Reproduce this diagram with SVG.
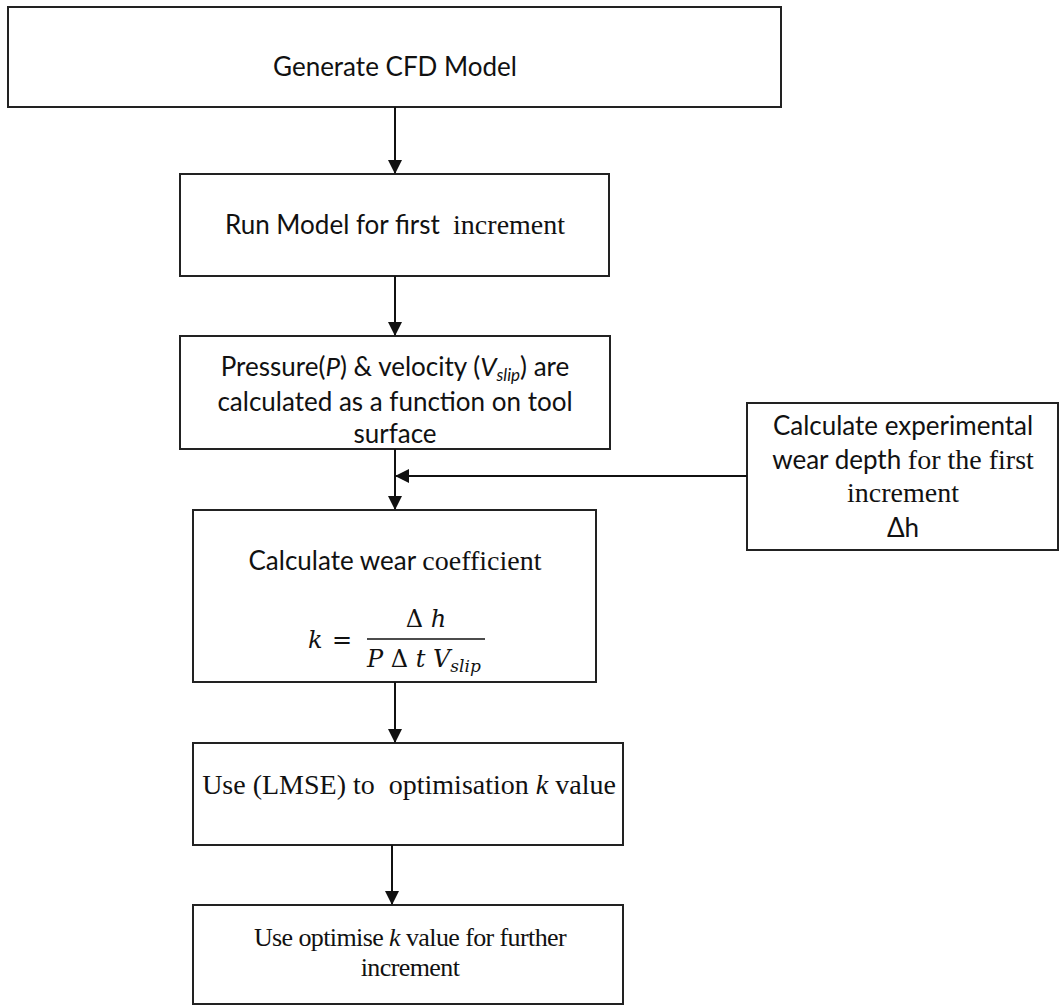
<svg xmlns="http://www.w3.org/2000/svg" width="1060" height="1005" viewBox="0 0 1060 1005">
<style>
.box{fill:#fff;stroke:#222;stroke-width:2}
.sans{font-family:Lato,"Liberation Sans",sans-serif;font-size:26px;fill:#111}
.serif{font-family:"Liberation Serif","Times New Roman",serif;font-size:28px;fill:#111}
.serif2{font-family:"Liberation Serif","Times New Roman",serif;font-size:26px;letter-spacing:-0.6px;fill:#111}
.math{font-family:"DejaVu Serif","Liberation Serif",serif;font-size:24px;fill:#111}
.conn{stroke:#111;stroke-width:2;fill:none}
</style>
<defs>
<marker id="ah" markerWidth="14" markerHeight="14" refX="13" refY="7" orient="auto" markerUnits="userSpaceOnUse">
<path d="M0,0 L14,7 L0,14 Z" fill="#111"/>
</marker>
</defs>
<rect width="1060" height="1005" fill="#fff"/>
<g id="n1">
<rect class="box" x="8" y="7" width="773" height="100"/>
<text class="sans" x="395" y="76" text-anchor="middle">Generate CFD Model</text>
</g>
<g id="n2">
<rect class="box" x="180" y="174" width="429" height="102"/>
<text class="sans" x="395" y="234" text-anchor="middle" xml:space="preserve">Run Model for first  <tspan class="serif">increment</tspan></text>
</g>
<g id="n3">
<rect class="box" x="180" y="336" width="430" height="113"/>
<text class="sans" x="395" y="376" text-anchor="middle">Pressure(<tspan font-style="italic">P</tspan>) &amp; velocity (<tspan font-style="italic">V</tspan><tspan font-style="italic" font-size="17" dy="5">slip</tspan><tspan dy="-5">) are</tspan></text>
<text class="sans" x="395" y="411" text-anchor="middle">calculated as a function on tool</text>
<text class="sans" x="395" y="443" text-anchor="middle">surface</text>
</g>
<g id="n4">
<rect class="box" x="747" y="403" width="311" height="147"/>
<text class="sans" x="903" y="435" text-anchor="middle">Calculate experimental</text>
<text class="sans" x="903" y="469" text-anchor="middle">wear depth <tspan class="serif">for the first</tspan></text>
<text class="serif" x="903" y="502" text-anchor="middle">increment</text>
<text class="sans" x="903" y="537" text-anchor="middle">Δh</text>
</g>
<g id="n5">
<rect class="box" x="193" y="510" width="403" height="172"/>
<text class="sans" x="395" y="570" text-anchor="middle">Calculate wear <tspan class="serif">coefficient</tspan></text>
<text class="math" x="308" y="648" font-style="italic">k</text>
<text class="math" x="332" y="648">=</text>
<text class="math" x="426" y="627" text-anchor="middle">Δ <tspan font-style="italic">h</tspan></text>
<line x1="367" y1="639" x2="485" y2="639" stroke="#111" stroke-width="1.5"/>
<text class="math" x="367" y="667"><tspan font-style="italic">P</tspan> Δ <tspan font-style="italic">t V</tspan><tspan font-style="italic" font-size="17" dy="5">slip</tspan></text>
</g>
<g id="n6">
<rect class="box" x="193" y="743" width="430" height="102"/>
<text class="serif" x="409" y="794" text-anchor="middle" xml:space="preserve">Use (LMSE) to  optimisation <tspan font-style="italic">k</tspan> value</text>
</g>
<g id="n7">
<rect class="box" x="193" y="905" width="430" height="99"/>
<text class="serif2" x="410" y="946" text-anchor="middle">Use optimise <tspan font-style="italic">k</tspan> value for further</text>
<text class="serif2" x="410" y="976" text-anchor="middle">increment</text>
</g>
<g id="connectors">
<line class="conn" x1="395" y1="107" x2="395" y2="173" marker-end="url(#ah)"/>
<line class="conn" x1="395" y1="276" x2="395" y2="335" marker-end="url(#ah)"/>
<line class="conn" x1="395" y1="449" x2="395" y2="509" marker-end="url(#ah)"/>
<line class="conn" x1="747" y1="476" x2="396" y2="476" marker-end="url(#ah)"/>
<line class="conn" x1="395" y1="682" x2="395" y2="742" marker-end="url(#ah)"/>
<line class="conn" x1="392" y1="845" x2="392" y2="904" marker-end="url(#ah)"/>
</g>
</svg>
